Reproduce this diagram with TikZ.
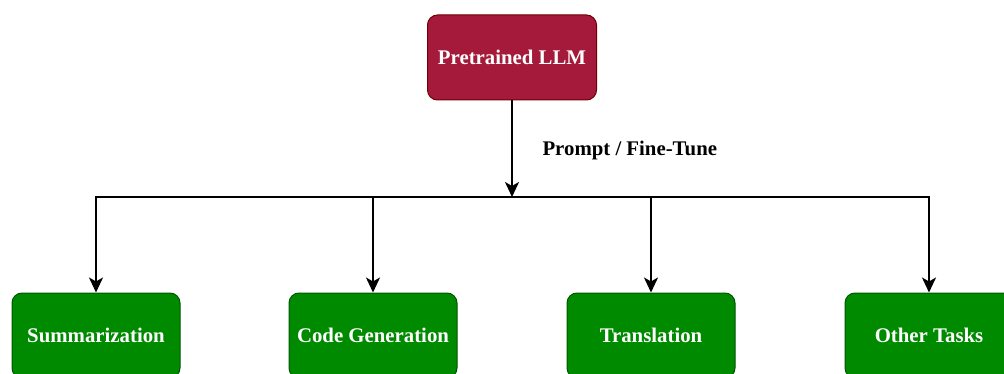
\documentclass[tikz,border=0pt]{standalone}
\usepackage{fontspec}
\setmainfont{Liberation Serif}
\usetikzlibrary{positioning, arrows.meta}

\definecolor{llmred}{HTML}{A51A3A}
\definecolor{llmredline}{HTML}{6F0000}
\definecolor{taskgreen}{HTML}{008A00}
\definecolor{taskgreenline}{HTML}{005700}

\begin{document}
\begin{tikzpicture}[
    x=1pt,
    y=-1pt,
    font=\fontsize{20.8}{24}\selectfont\bfseries,
    model/.style={
        rectangle,
        rounded corners=10pt,
        draw=llmredline,
        fill=llmred,
        text=white,
        line width=1pt,
        align=center,
        minimum width=169pt,
        minimum height=85pt
    },
    task/.style={
        rectangle,
        rounded corners=10pt,
        draw=taskgreenline,
        fill=taskgreen,
        text=white,
        line width=1pt,
        align=center,
        minimum width=168pt,
        minimum height=85pt
    },
    arrow/.style={-{Stealth[length=15pt,width=14pt,inset=4pt]}, line width=2pt}
]

% Page size
\useasboundingbox (0,0) rectangle (1004,374);
\clip (0,0) rectangle (1004,374);

% Pretrained model
\node[model] (llm) at (512,57.5) {Pretrained LLM};

% Downstream tasks
\node[task] (sum) at (96,335.5) {Summarization};
\node[task] (code) at (373,335.5) {Code Generation};
\node[task] (trans) at (651,335.5) {Translation};
\node[task] (other) at (929,335.5) {Other Tasks};

% Branch point
\coordinate (hub) at (512,197);

% Prompt arrow
\draw[arrow] (llm) -- (hub);
\node[anchor=west] (prompt) at (539,150) {Prompt / Fine-Tune};

% Branches to tasks
\draw[arrow] (hub) -| (sum);
\draw[arrow] (hub) -| (code);
\draw[arrow] (hub) -| (trans);
\draw[arrow] (hub) -| (other);

\end{tikzpicture}
\end{document}
